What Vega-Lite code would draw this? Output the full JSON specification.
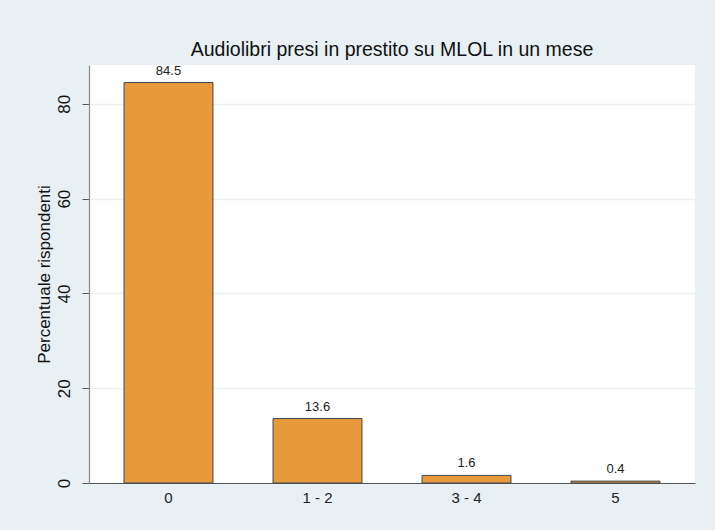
{
  "$schema": "https://vega.github.io/schema/vega-lite/v6.json",
  "width": 606,
  "height": 418,
  "autosize": {"type": "none"},
  "padding": {"left": 89, "top": 65, "right": 20, "bottom": 47},
  "background": "#e8f0f3",
  "config": {
    "font": "Liberation Sans",
    "view": {"fill": "white", "stroke": null}
  },
  "title": {
    "text": "Audiolibri presi in prestito su MLOL in un mese",
    "fontSize": 19.5,
    "fontWeight": "normal",
    "color": "#111111",
    "offset": 4,
    "anchor": "middle"
  },
  "data": {
    "values": [
      {"categoria": "0", "percentuale": 84.5},
      {"categoria": "1 - 2", "percentuale": 13.6},
      {"categoria": "3 - 4", "percentuale": 1.6},
      {"categoria": "5", "percentuale": 0.4}
    ]
  },
  "encoding": {
    "x": {
      "field": "categoria",
      "type": "nominal",
      "sort": null,
      "scale": {"paddingInner": 0.403, "paddingOuter": 0.235},
      "axis": {
        "title": null,
        "labelAngle": 0,
        "labelFontSize": 15,
        "labelColor": "#222222",
        "labelPadding": 7,
        "ticks": false,
        "domainColor": "#555555",
        "domainWidth": 1.2,
        "grid": false
      }
    },
    "y": {
      "field": "percentuale",
      "type": "quantitative",
      "scale": {"domain": [0, 88.2], "nice": false},
      "axis": {
        "title": "Percentuale rispondenti",
        "titleFontSize": 17,
        "titleFontWeight": "normal",
        "titleColor": "#111111",
        "titlePadding": 2,
        "values": [0, 20, 40, 60, 80],
        "labelAngle": -90,
        "labelAlign": "center",
        "labelBaseline": "bottom",
        "labelFontSize": 17,
        "labelColor": "#111111",
        "labelPadding": 9,
        "tickSize": 7,
        "tickColor": "#555555",
        "domainColor": "#888888",
        "domainWidth": 1.2,
        "gridColor": "#eaf1f4",
        "gridWidth": 1.5
      }
    }
  },
  "layer": [
    {
      "mark": {"type": "bar", "fill": "#e8993a", "stroke": "#3e4a56", "strokeWidth": 1}
    },
    {
      "mark": {"type": "text", "baseline": "bottom", "dy": -5, "fontSize": 13, "color": "#222222"},
      "encoding": {
        "text": {"field": "percentuale", "type": "quantitative", "format": ".1f"}
      }
    }
  ]
}
